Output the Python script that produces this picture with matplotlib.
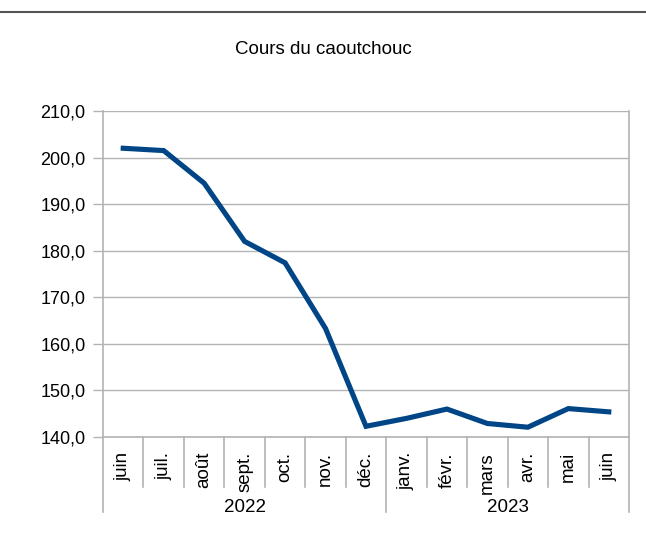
import numpy as np
import matplotlib
matplotlib.use("Agg")
import matplotlib.pyplot as plt
from matplotlib.lines import Line2D
from matplotlib.ticker import FuncFormatter

plt.rcParams['font.family'] = ['Liberation Sans', 'DejaVu Sans']

# data
months = ["juin", "juil.", "août", "sept.", "oct.", "nov.", "déc.",
          "janv.", "févr.", "mars", "avr.", "mai", "juin"]
years = ["2022", "2023"]
year_counts = [7, 6]
prix = [202.0, 201.5, 194.5, 182.0, 177.4, 163.3, 142.3,
        144.0, 146.0, 142.9, 142.1, 146.1, 145.4]

W, H = 646, 550
fig = plt.figure(figsize=(W / 100, H / 100), dpi=100)

# plot area in pixels
left, right, top, bottom = 103, 629, 111, 437
ax = fig.add_axes([left / W, 1 - bottom / H, (right - left) / W, (bottom - top) / H])

grey = "#b3b3b3"
x = np.arange(len(months))
ax.plot(x, prix, color="#004586", lw=3.7, solid_joinstyle="miter", zorder=3)

ax.set_xlim(-0.5, len(months) - 0.5)
ax.set_ylim(140, 210)
ax.set_yticks(np.arange(140, 211, 10))
ax.yaxis.set_major_formatter(FuncFormatter(lambda v, p: f"{v:.1f}".replace(".", ",")))
ax.tick_params(axis="y", length=7.5, width=1, color=grey, pad=5, labelsize=13)
ax.set_xticks([])
ax.grid(axis="y", color=grey, lw=1)
ax.set_axisbelow(True)

for s in ["left", "right", "bottom"]:
    ax.spines[s].set_color(grey)
    ax.spines[s].set_linewidth(1.2)
ax.spines["top"].set_visible(False)

# category labels and separators below the axis
h = bottom - top
trans = ax.get_xaxis_transform()
bounds = np.cumsum([0] + year_counts)
for i in range(len(months) + 1):
    y_end = -75 / h if i in bounds else -50 / h
    ax.add_line(Line2D([i - 0.5, i - 0.5], [0, y_end], transform=trans,
                       color=grey, lw=1.2, clip_on=False))
for i, m in enumerate(months):
    ax.text(i, -15 / h, m, transform=trans, rotation=90, ha="center", va="top",
            fontsize=13.5)
for k, yr in enumerate(years):
    xc = (bounds[k] + bounds[k + 1]) / 2 - 0.5
    ax.text(xc, -71 / h, yr, transform=trans, ha="center", va="center", fontsize=13.5)

fig.text(0.5, 1 - 49 / H, "Cours du caoutchouc", ha="center", va="center", fontsize=13.5)

# thin rule at the top of the page
fig.add_artist(Line2D([0, 1], [1 - 12 / H, 1 - 12 / H], color="#555555", lw=1.5))

fig.savefig("out.png", dpi=100)
